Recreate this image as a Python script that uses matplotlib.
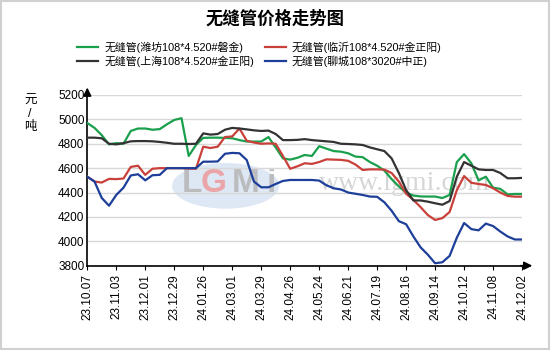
import numpy as np
import matplotlib
matplotlib.use("Agg")
import matplotlib.pyplot as plt
from matplotlib.patches import Ellipse, Rectangle

plt.rcParams['font.family'] = ['Liberation Sans', 'Noto Sans CJK SC', 'DejaVu Sans']

# weekly prices, yuan/ton
weifang = [4970, 4930, 4870, 4795, 4805, 4800, 4905, 4925, 4925, 4915,
           4920, 4960, 4995, 5010, 4700, 4790, 4848, 4850, 4850, 4848,
           4845, 4830, 4818, 4818, 4818, 4855, 4770, 4680, 4670, 4685,
           4708, 4700, 4780, 4760, 4740, 4735, 4722, 4695, 4690, 4650,
           4620, 4580, 4510, 4450, 4400, 4375, 4368, 4367, 4367, 4355,
           4380, 4650, 4715, 4640, 4500, 4530, 4440, 4430, 4385, 4388, 4388]
linyi = [4530, 4490, 4482, 4512, 4510, 4515, 4610, 4620, 4545, 4595,
         4600, 4600, 4600, 4600, 4597, 4595, 4776, 4765, 4776, 4855,
         4860, 4925, 4825, 4810, 4800, 4803, 4800, 4700, 4595, 4615,
         4640, 4635, 4650, 4672, 4670, 4668, 4660, 4630, 4585, 4590,
         4590, 4588, 4560, 4490, 4390, 4340, 4280, 4215, 4175, 4190,
         4240, 4420, 4535, 4480, 4470, 4462, 4435, 4400, 4372, 4366, 4366]
shanghai = [4850, 4850, 4845, 4800, 4795, 4805, 4820, 4822, 4822, 4820,
            4815, 4808, 4800, 4800, 4798, 4800, 4885, 4875, 4880, 4915,
            4930, 4925, 4918, 4910, 4905, 4908, 4880, 4830, 4830, 4832,
            4838, 4830, 4825, 4820, 4815, 4800, 4798, 4795, 4790, 4770,
            4755, 4740, 4680, 4560, 4420, 4335, 4335, 4325, 4312, 4300,
            4330, 4530, 4650, 4620, 4590, 4585, 4585, 4560, 4517, 4517, 4520]
liaocheng = [4530, 4490, 4355, 4292, 4380, 4440, 4540, 4550, 4500, 4542,
             4545, 4600, 4600, 4600, 4600, 4600, 4653, 4653, 4655, 4718,
             4725, 4722, 4667, 4490, 4443, 4443, 4470, 4495, 4503, 4503,
             4503, 4503, 4498, 4460, 4435, 4425, 4400, 4390, 4380, 4367,
             4365, 4320, 4250, 4165, 4140, 4040, 3950, 3890, 3820, 3828,
             3880, 4030, 4150, 4100, 4090, 4145, 4125, 4080, 4040, 4015, 4015]

date_labels = ['23.10.07', '23.11.03', '23.12.01', '23.12.29', '24.01.26',
               '24.03.01', '24.03.29', '24.04.26', '24.05.24', '24.06.21',
               '24.07.19', '24.08.16', '24.09.14', '24.10.12', '24.11.08',
               '24.12.02']

series = [
    ('无缝管(潍坊108*4.520#磐金)', weifang, '#1aa04c'),
    ('无缝管(临沂108*4.520#金正阳)', linyi, '#c9403b'),
    ('无缝管(上海108*4.520#金正阳)', shanghai, '#333333'),
    ('无缝管(聊城108*3020#中正)', liaocheng, '#1d3f9a'),
]

fig = plt.figure(figsize=(5.5, 3.5), dpi=100)
fig.patches.append(Rectangle((0.002, 0.003), 0.996, 0.994, transform=fig.transFigure,
                             fill=False, edgecolor='#d0d0d0', linewidth=1.5))

ax = fig.add_axes([0.1587, 0.2409, 0.7905, 0.4877])
x = np.arange(len(weifang))

# watermark logo and site name
ax.add_patch(Ellipse((19.1, 4455), 14.8, 375, facecolor='#c9d8ee', edgecolor='none',
                     alpha=0.6, zorder=0))
for ch, xc, col in [('L', 14.4, '#b5b5b5'), ('G', 17.5, '#ec9a9a'),
                    ('M', 21.9, '#b5b5b5'), ('i', 25.4, '#b5b5b5')]:
    ax.text(xc, 4478, ch, fontsize=24, fontweight='bold', color=col,
            ha='center', va='center', alpha=0.85, zorder=0)
ax.text(43.8, 4478, 'www.lgmi.com', fontsize=20, family='Liberation Serif',
        color='#cccccc', ha='center', va='center', alpha=0.8, zorder=0)

lines = {}
for name, vals, color in series:
    lines[name], = ax.plot(x, vals, color=color, linewidth=1.6, label=name, zorder=3)

ax.set_xlim(0, 60)
ax.set_ylim(3800, 5200)
ax.set_yticks(np.arange(3800, 5201, 200))
ax.set_xticks(np.arange(0, 61, 4))
ax.set_xticklabels(date_labels, rotation=90, fontsize=8.5)
ax.tick_params(axis='y', labelsize=8.5, length=0, pad=2)
ax.tick_params(axis='x', length=3, pad=3)
ax.yaxis.grid(True, color='#d8d8d8', linewidth=1)
ax.set_axisbelow(True)
for s in ['top', 'right']:
    ax.spines[s].set_visible(False)
ax.spines['left'].set_linewidth(1.2)
ax.spines['bottom'].set_linewidth(1.2)

# axis arrows
ax.annotate('', xy=(1.03, 0), xytext=(0.99, 0), xycoords='axes fraction',
            arrowprops=dict(arrowstyle='-|>', color='black', lw=1.2,
                            mutation_scale=12), annotation_clip=False)
ax.annotate('', xy=(0, 1.06), xytext=(0, 0.99), xycoords='axes fraction',
            arrowprops=dict(arrowstyle='-|>', color='black', lw=1.2,
                            mutation_scale=12), annotation_clip=False)

fig.text(0.055, 0.675, '元\n/\n吨', fontsize=9, ha='center', va='center',
         linespacing=1.1)
fig.text(0.5, 0.95, '无缝管价格走势图', fontsize=12.5, fontweight='bold',
         ha='center', va='center')

# legend fills column-wise, so order entries to read row by row
order = [series[0][0], series[2][0], series[1][0], series[3][0]]
fig.legend([lines[n] for n in order], order, ncol=2, loc='center',
           bbox_to_anchor=(0.472, 0.845), frameon=False, fontsize=7.85,
           handlelength=1.9, handletextpad=0.55, columnspacing=1.05,
           labelspacing=0.3)

fig.savefig('out.png', dpi=100)
